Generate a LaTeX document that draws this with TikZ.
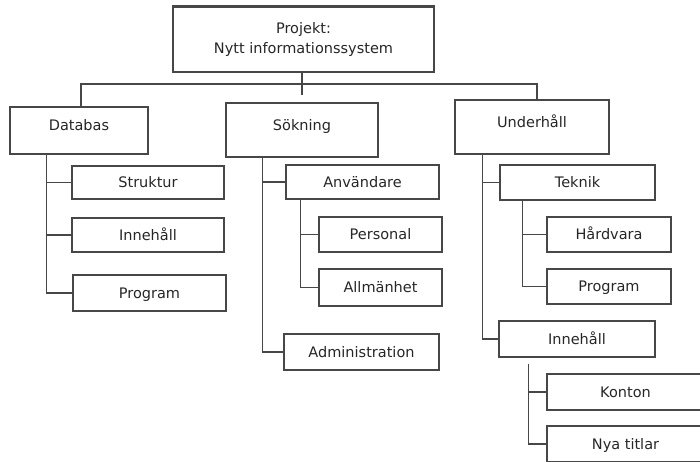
\documentclass[tikz,border=0pt]{standalone}
\usepackage{fontspec}
\setmainfont{DejaVu Sans}
\usepackage{tikz}

\begin{document}
\begin{tikzpicture}[x=1pt, y=-1pt, line width=1.4pt, color=black!72,
    main/.style = {draw, rectangle, inner sep=0pt, text=black!85, font=\fontsize{14.5}{20}\selectfont, text height=10pt, text depth=0pt},
    head/.style = {main, text depth=10pt},
    root/.style = {draw, rectangle, inner sep=0pt, align=center, text=black!85, font=\fontsize{14.5}{20}\selectfont}]
\useasboundingbox (0,0) rectangle (700,461);
\clip (0,0) rectangle (700,461);
% boxes
\node[root, minimum width=261pt, minimum height=65pt] (0) at (303.5,39.5) {Projekt:\\Nytt informationssystem};
\node[head, minimum width=138pt, minimum height=47pt] (1) at (79,130.5) {Databas};
\node[head, minimum width=152pt, minimum height=54pt] (2) at (302,130) {Sökning};
\node[head, minimum width=154pt, minimum height=54pt] (3) at (532,127) {Underhåll};
\node[main, minimum width=152pt, minimum height=33pt] (11) at (148,182.5) {Struktur};
\node[main, minimum width=152pt, minimum height=34pt] (12) at (148,235) {Innehåll};
\node[main, minimum width=153pt, minimum height=36pt] (13) at (149.5,293) {Program};
\node[main, minimum width=153pt, minimum height=34pt] (21) at (362.5,182) {Användare};
\node[main, minimum width=123pt, minimum height=35pt] (211) at (380.5,234.5) {Personal};
\node[main, minimum width=123pt, minimum height=37pt] (212) at (380.5,287.5) {Allmänhet};
\node[main, minimum width=155pt, minimum height=36pt] (22) at (361.5,352) {Administration};
\node[main, minimum width=155pt, minimum height=35pt] (31) at (577.5,182.5) {Teknik};
\node[main, minimum width=124pt, minimum height=35pt] (311) at (609,234.5) {Hårdvara};
\node[main, minimum width=124pt, minimum height=35pt] (312) at (609,286.5) {Program};
\node[main, minimum width=156pt, minimum height=36pt] (32) at (577,339) {Innehåll};
\node[main, minimum width=157pt, minimum height=36pt] (321) at (625.5,392) {Konton};
\node[main, minimum width=157pt, minimum height=36pt] (322) at (625.5,444) {Nya titlar};
\draw[line width=3pt] (0.north west) -- (0.north east);
% trunks
\coordinate (b) at (300,84);
\coordinate (1t) at ([xshift=37pt]1.south west);
\coordinate (2t) at ([xshift=37pt]2.south west);
\coordinate (21t) at ([xshift=15pt]21.south west);
\coordinate (3t) at ([xshift=28pt]3.south west);
\coordinate (31t) at ([xshift=23pt]31.south west);
\coordinate (32t) at ([xshift=30pt, yshift=-6pt]32.south west);
% connectors
\draw[shorten >=7pt] (2.north |- 0.south) -- (2.north);
\draw ([xshift=2pt]1.north) |- (b) -| ([xshift=5pt]3.north);
\draw (1t) |- (13.west);
\draw (1t |- 11.west) -- (11.west);
\draw (1t |- 12.west) -- (12.west);
\draw (2t) |- (22.west);
\draw (2t |- 21.west) -- (21.west);
\draw (21t) |- (212.west);
\draw (21t |- 211.west) -- (211.west);
\draw (3t) |- (32.west);
\draw (3t |- 31.west) -- (31.west);
\draw (31t) |- (312.west);
\draw (31t |- 311.west) -- (311.west);
\draw (32t) |- (322.west);
\draw (32t |- 321.west) -- (321.west);
\end{tikzpicture}
\end{document}
